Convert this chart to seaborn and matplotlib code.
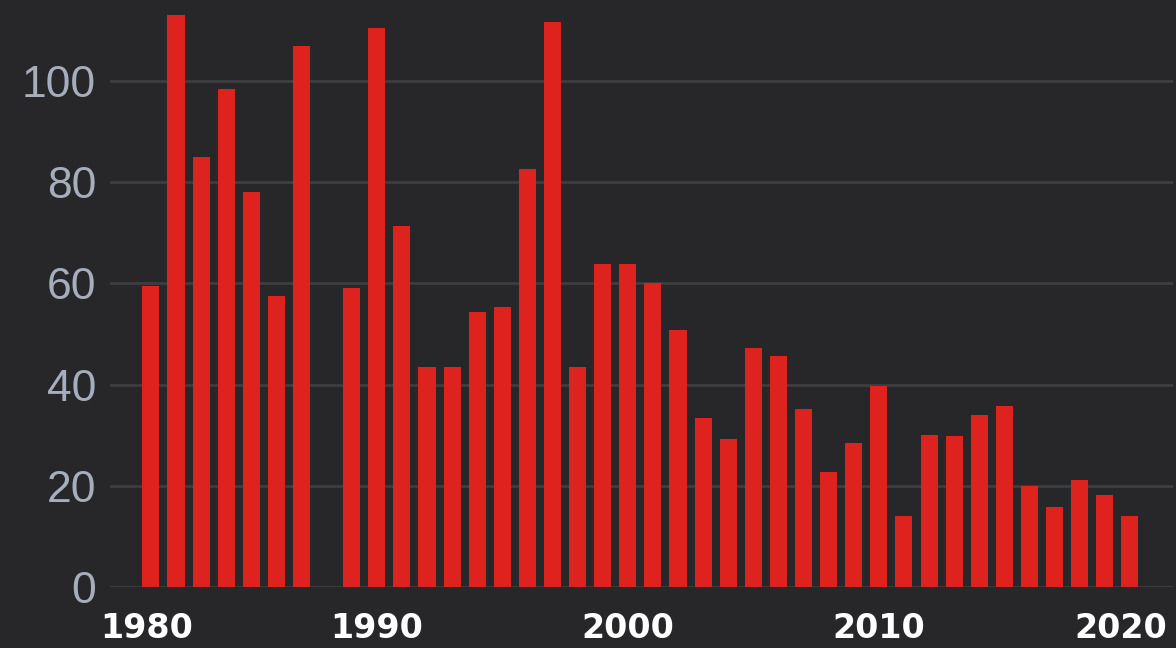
import numpy as np
import pandas as pd
import matplotlib
matplotlib.use("Agg")
import matplotlib.pyplot as plt
import matplotlib.transforms as mtransforms
import seaborn as sns

# values (1988 has no bar)
years = [1981, 1982, 1983, 1984, 1985, 1986, 1987,
         1989, 1990, 1991, 1992, 1993, 1994, 1995, 1996, 1997, 1998, 1999, 2000,
         2001, 2002, 2003, 2004, 2005, 2006, 2007, 2008, 2009, 2010,
         2011, 2012, 2013, 2014, 2015, 2016, 2017, 2018, 2019, 2020]
counts = [59.5, 113, 85, 98.5, 78, 57.5, 107,
          59, 110.5, 71.3, 43.5, 43.4, 54.3, 55.3, 82.7, 111.6, 43.5, 63.8, 63.8,
          60, 50.7, 33.4, 29.3, 47.3, 45.7, 35.1, 22.8, 28.4, 39.7,
          14, 30.1, 29.8, 33.9, 35.7, 19.9, 15.9, 21.1, 18.1, 14.1]
x_ticks = [1980, 1990, 2000, 2010, 2020]
y_ticks = [0, 20, 40, 60, 80, 100]

bg = "#27272a"
bar_color = "#de231f"
grid_color = "#3e3e41"

df = pd.DataFrame({"Year": years, "Count": counts})

sns.set_style("dark")
fig = plt.figure(figsize=(11.76, 6.48), dpi=100, facecolor=bg)
ax = fig.add_axes([0.0935, 0.0941, 0.904, 0.9059])
ax.set_facecolor(bg)

sns.barplot(data=df, x="Year", y="Count", native_scale=True, color=bar_color,
            saturation=1, width=0.68, linewidth=0, ax=ax, zorder=3)

ax.set_xlim(1979.37, 2021.72)
ax.set_ylim(0, 116)
ax.set_yticks(y_ticks)
ax.set_xticks(x_ticks)
ax.set_xticklabels([str(t) for t in x_ticks], fontsize=24, fontweight="bold",
                   color="white", family="DejaVu Sans")
ax.set_yticklabels([str(t) for t in y_ticks], fontsize=32, color="#a7aebb",
                   family="Liberation Sans")
ax.tick_params(axis="x", length=0, pad=18)
ax.tick_params(axis="y", length=0, pad=10)

# nudge the end labels inward like the original
labels = ax.get_xticklabels()
labels[0].set_transform(labels[0].get_transform() +
                        mtransforms.ScaledTranslation(0.21, 0, fig.dpi_scale_trans))
labels[-1].set_transform(labels[-1].get_transform() +
                         mtransforms.ScaledTranslation(-0.09, 0, fig.dpi_scale_trans))

ax.grid(axis="y", color=grid_color, linewidth=2, zorder=0)
ax.grid(axis="x", visible=False)
for s in ax.spines.values():
    s.set_visible(False)
ax.set_xlabel("")
ax.set_ylabel("")

fig.savefig("out.png", dpi=100, facecolor=bg)
